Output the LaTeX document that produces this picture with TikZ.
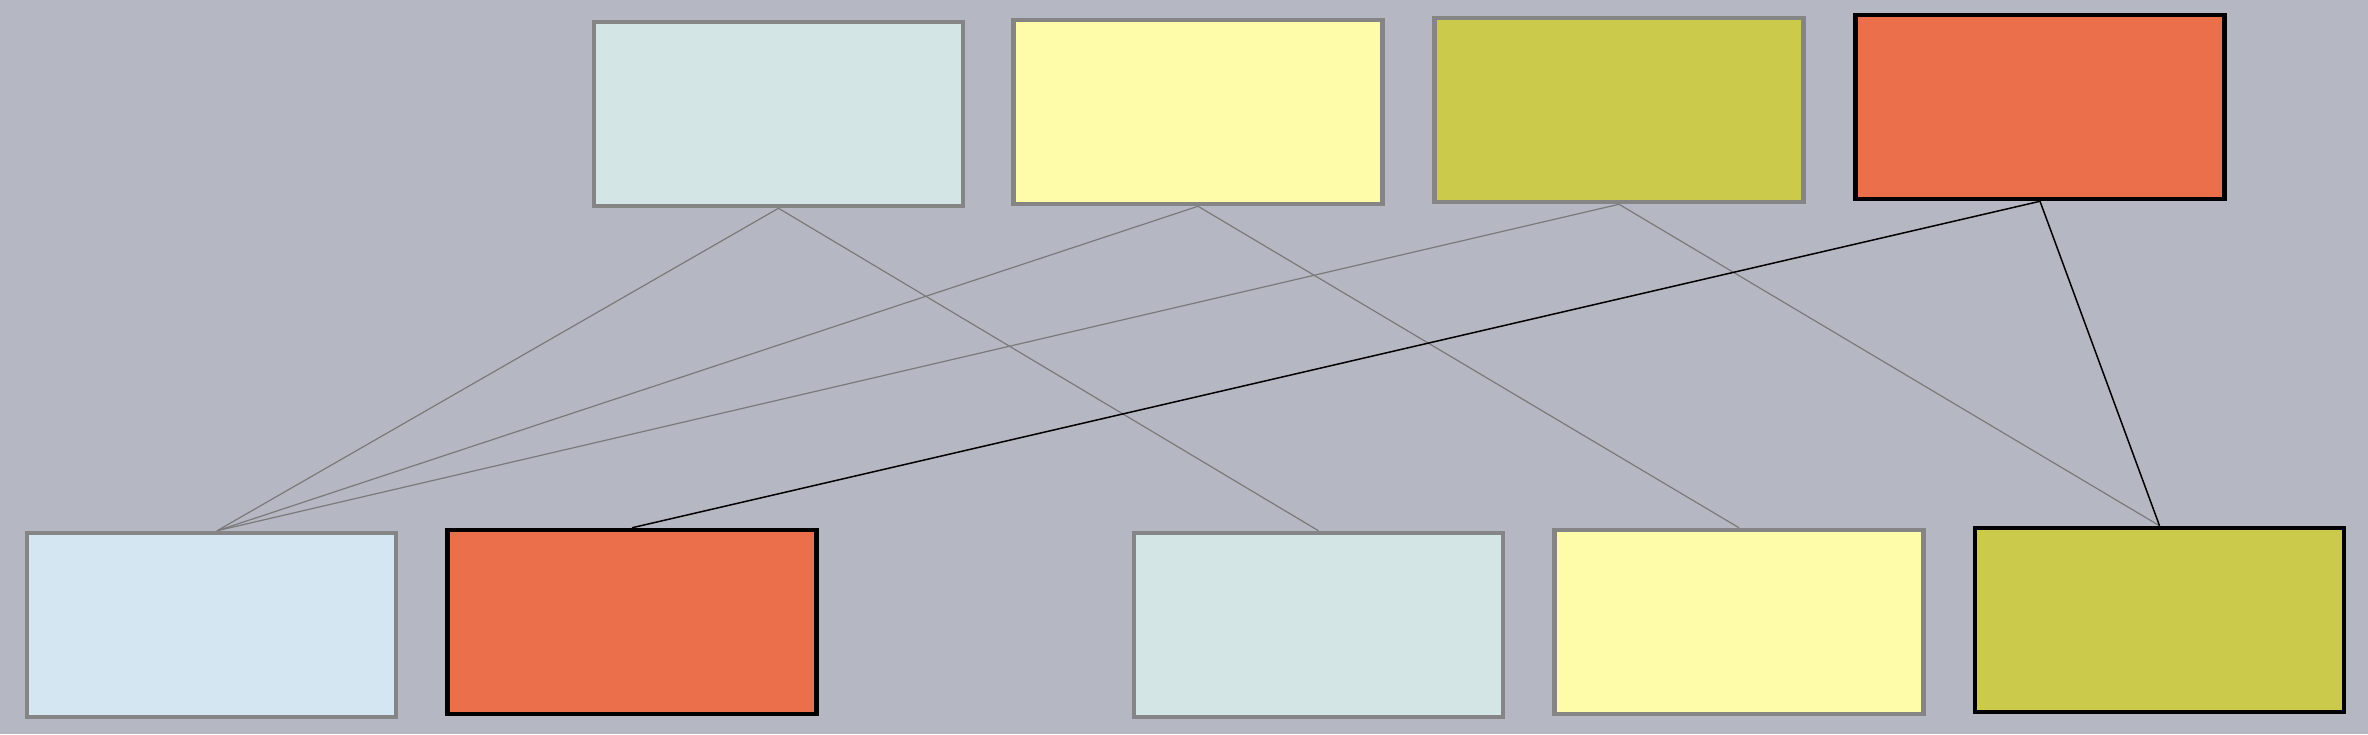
\documentclass[tikz,border=0pt]{standalone}
\usetikzlibrary{backgrounds}
\definecolor{bgc}{HTML}{B5B7C3}
\definecolor{cyanbox}{HTML}{D3E5E5}
\definecolor{yelbox}{HTML}{FEFCA8}
\definecolor{olivebox}{HTML}{CBCA4B}
\definecolor{orbox}{HTML}{EA6F4A}
\definecolor{bluebox}{HTML}{D4E6F2}
\definecolor{bordgrey}{HTML}{858585}
\definecolor{edgegrey}{HTML}{7A7A7A}
\tikzset{
  box/.style={rectangle, inner sep=0pt, minimum width=36.9mm, minimum height=18.4mm, line width=0.45mm, draw=bordgrey},
  boxk/.style={box, draw=black},
  gedge/.style={draw=edgegrey, line width=0.12mm},
  kedge/.style={draw=black, line width=0.15mm}
}
\begin{document}
\begin{tikzpicture}[x=0.1mm,y=-0.1mm]
\useasboundingbox (0,0) rectangle (2368,734);
\node[box, fill=cyanbox] (t1) at (778.5,114) {};
\node[box, fill=yelbox] (t2) at (1198,112) {};
\node[box, fill=olivebox] (t3) at (1619,110) {};
\node[boxk, fill=orbox] (t4) at (2040,107) {};
\node[box, fill=bluebox] (b1) at (211.5,625) {};
\node[boxk, fill=orbox] (b2) at (632,622) {};
\node[box, fill=cyanbox] (b3) at (1318.5,625) {};
\node[box, fill=yelbox] (b4) at (1739,622) {};
\node[boxk, fill=olivebox] (b5) at (2159.5,620) {};
\coordinate (b1in) at ([xshift=0.55mm]b1.north);
\begin{scope}[on background layer]
\fill[bgc] (0,0) rectangle (2368,734);
\draw[gedge] (t1.south) -- (b1in);
\draw[gedge] (t1.south) -- (b3.north);
\draw[gedge] (t2.south) -- (b1in);
\draw[gedge] (t2.south) -- (b4.north);
\draw[gedge] (t3.south) -- (b1in);
\draw[gedge] (t3.south) -- (b5.north);
\draw[kedge] (t4.south) -- (b2.north);
\draw[kedge] (t4.south) -- (b5.north);
\end{scope}
\end{tikzpicture}
\end{document}
